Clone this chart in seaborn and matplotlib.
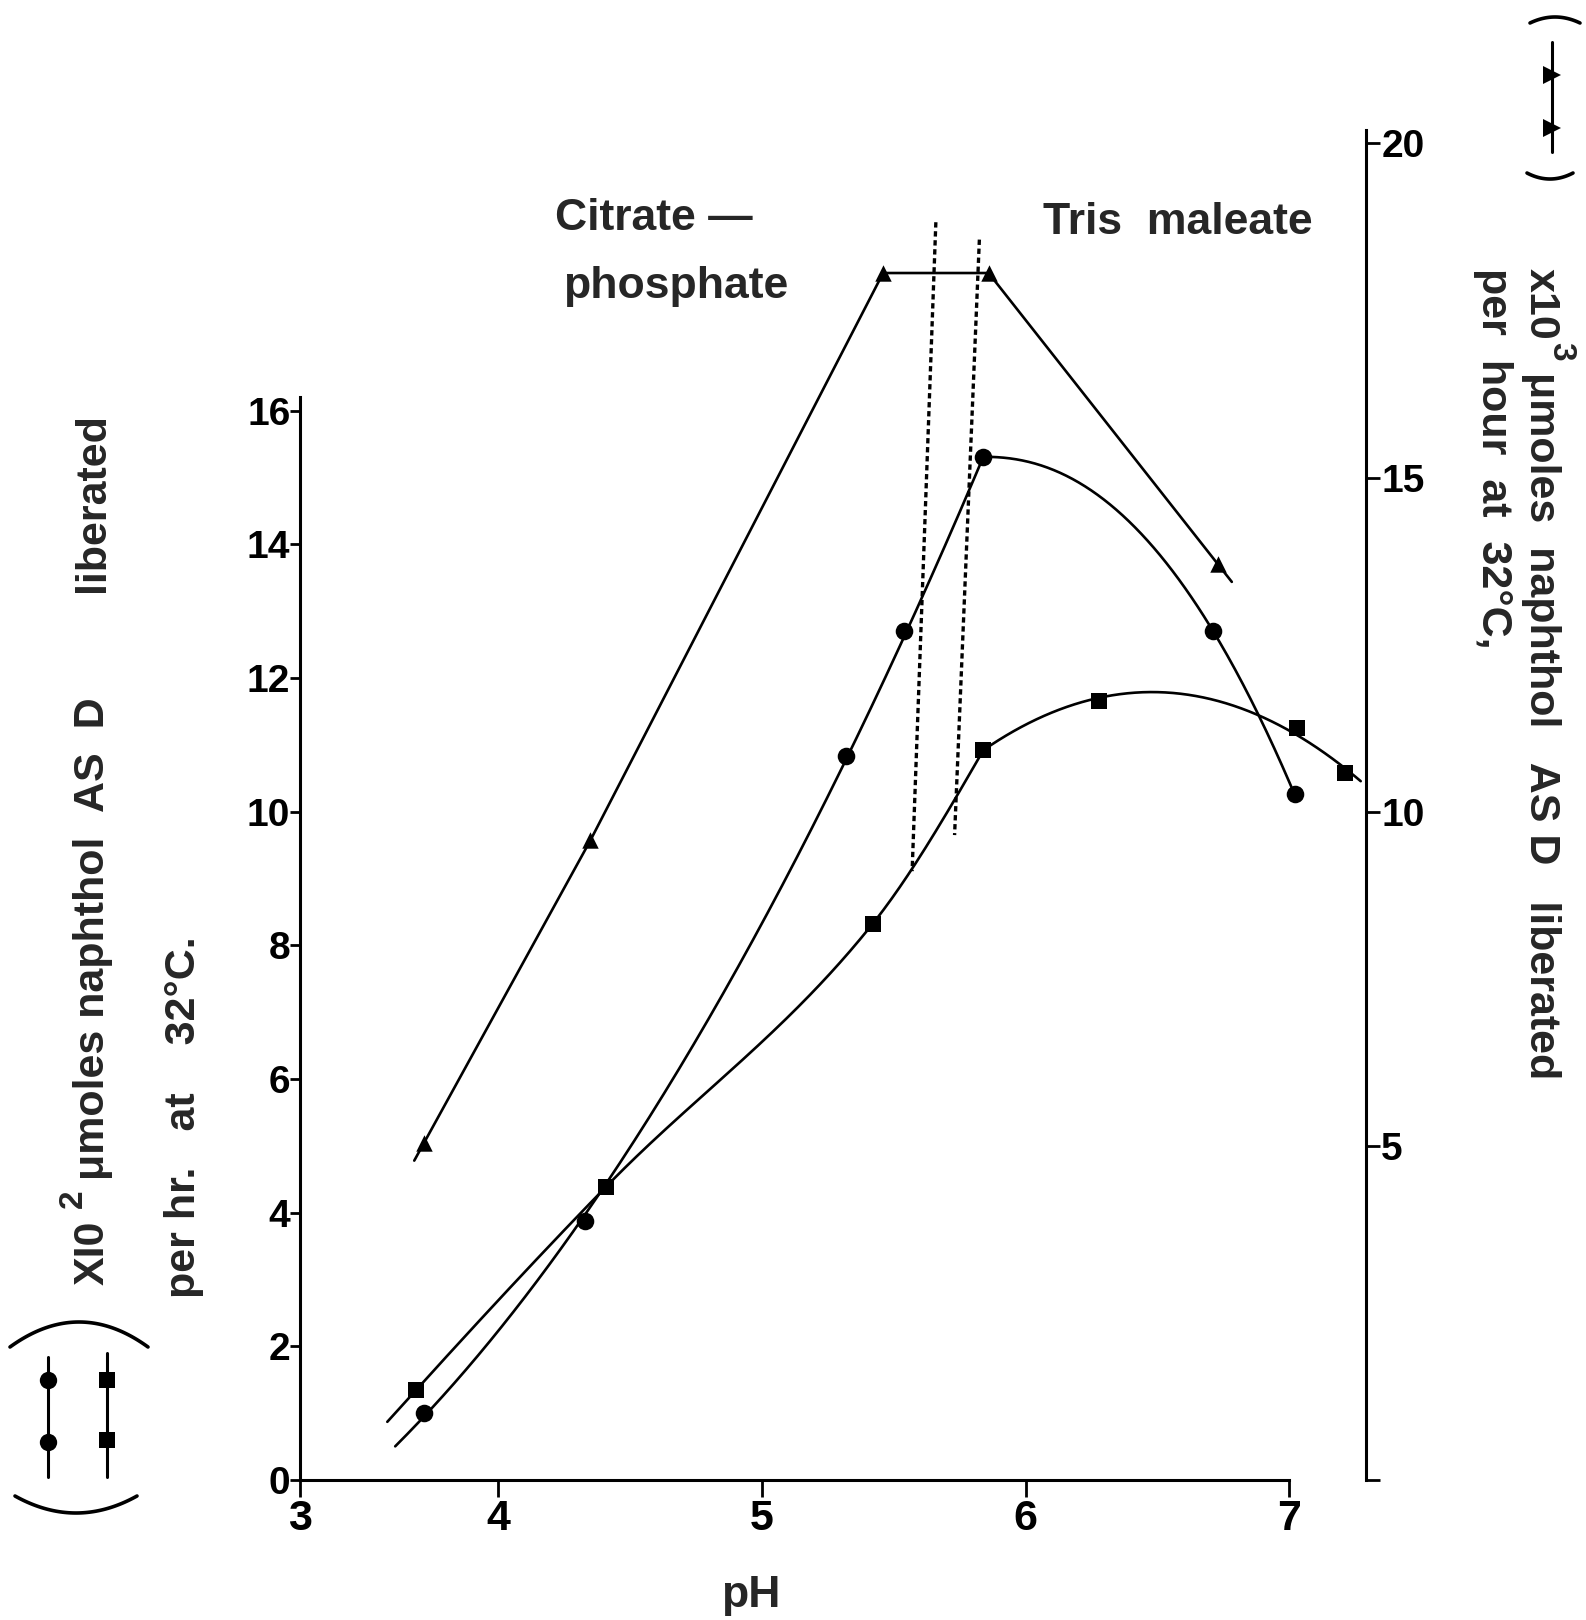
import numpy as np
import matplotlib
matplotlib.use("Agg")
import matplotlib.pyplot as plt
import seaborn as sns

# ---- measurements -------------------------------------------------------
# circles: x10^2 umoles naphthol AS D liberated per hr at 32 C (left axis)
ph_circle = [3.72, 4.33, 5.32, 5.54, 5.84, 6.71, 7.02]
act_circle = [1.00, 3.87, 10.84, 12.71, 15.31, 12.71, 10.26]

# squares: same units as circles (left axis)
ph_square = [3.69, 4.41, 5.42, 5.84, 6.28, 7.03, 7.21]
act_square = [1.35, 4.39, 8.32, 10.92, 11.65, 11.25, 10.58]

# triangles: x10^3 umoles per hour at 32 C (right axis)
ph_triangle = [3.72, 4.35, 5.46, 5.86, 6.73]
act_triangle = [5.05, 9.57, 18.06, 18.06, 13.70]

# limits of the citrate-phosphate / tris-maleate overlap (pH, value)
overlap_a_ph = [5.660, 5.570]
overlap_a_val = [18.82, 9.11]
overlap_b_ph = [5.825, 5.731]
overlap_b_val = [18.56, 9.65]

left_ticks = [0, 2, 4, 6, 8, 10, 12, 14, 16]
right_ticks = [0, 5, 10, 15, 20]
right_tick_labels = ["", "5", "10", "15", "20"]
x_ticks = [4, 5, 6, 7]
x_tick_labels = ["3", "4", "5", "6", "7"]

# ---- style --------------------------------------------------------------
sns.set_style("ticks")
plt.rcParams["font.family"] = ["Liberation Sans", "DejaVu Sans"]
plt.rcParams["font.weight"] = "bold"
INK = "black"
LW = 1.9

W, H = 1586, 1620
fig = plt.figure(figsize=(W / 100, H / 100), dpi=100)

X_MIN, X_MAX = 3.249, 7.291
Y_MAX = 20.2
ax = fig.add_axes([300 / W, 1 - 1480 / H, 1066 / W, 1350 / H])
ax.set_xlim(X_MIN, X_MAX)
ax.set_ylim(0, Y_MAX)
ax2 = ax.twinx()
ax2.set_ylim(0, Y_MAX)
for a in (ax, ax2):
    a.patch.set_alpha(0)


def poly_branch(x, y, deg, pin, lo, hi):
    """Polynomial trend through one branch, held at the shared peak point."""
    x = np.asarray(x, float)
    y = np.asarray(y, float)
    w = np.ones(len(x))
    w[pin] = 100.0
    coef = np.polyfit(x, y, deg, w=w)
    xs = np.linspace(lo, hi, 200)
    return xs, np.polyval(coef, xs)


def falling_branch(x, y, hi):
    """Decline from the peak (first point) as y0 - c * (x - x0) ** p."""
    x = np.asarray(x, float)
    y = np.asarray(y, float)
    p, logc = np.polyfit(np.log(x[1:] - x[0]), np.log(y[0] - y[1:]), 1)
    xs = np.linspace(x[0], hi, 200)
    return xs, y[0] - np.exp(logc) * (xs - x[0]) ** p


def pchip_branch(x, y, lo, hi):
    """Monotone piecewise-cubic curve through the points (Fritsch-Carlson),
    continued straight below the first point."""
    x = np.asarray(x, float)
    y = np.asarray(y, float)
    h = np.diff(x)
    d = np.diff(y) / h
    m = np.zeros_like(y)
    for i in range(1, len(x) - 1):
        if d[i - 1] * d[i] > 0:
            w1, w2 = 2 * h[i] + h[i - 1], h[i] + 2 * h[i - 1]
            m[i] = (w1 + w2) / (w1 / d[i - 1] + w2 / d[i])

    def end_slope(h0, h1, d0, d1):
        s = ((2 * h0 + h1) * d0 - h0 * d1) / (h0 + h1)
        if np.sign(s) != np.sign(d0):
            return 0.0
        if np.sign(d0) != np.sign(d1) and abs(s) > abs(3 * d0):
            return 3 * d0
        return s

    m[0] = end_slope(h[0], h[1], d[0], d[1])
    m[-1] = end_slope(h[-1], h[-2], d[-1], d[-2])
    xs = np.linspace(lo, hi, 300)
    xi = np.clip(xs, x[0], x[-1])
    idx = np.clip(np.searchsorted(x, xi) - 1, 0, len(x) - 2)
    t = (xi - x[idx]) / h[idx]
    ys = ((2 * t**3 - 3 * t**2 + 1) * y[idx]
          + (t**3 - 2 * t**2 + t) * h[idx] * m[idx]
          + (-2 * t**3 + 3 * t**2) * y[idx + 1]
          + (t**3 - t**2) * h[idx] * m[idx + 1])
    below = xs < x[0]
    ys[below] = y[0] + m[0] * (xs[below] - x[0])
    return xs, ys


LEAD = 0.11  # curves are drawn a little past the lowest-pH point
pc = int(np.argmax(act_circle))
ps = 3

curves = [
    poly_branch(ph_circle[:pc + 1], act_circle[:pc + 1], 2, -1,
                ph_circle[0] - LEAD, ph_circle[pc]),
    falling_branch(ph_circle[pc:], act_circle[pc:], ph_circle[-1]),
    pchip_branch(ph_square[:ps + 1], act_square[:ps + 1],
                 ph_square[0] - LEAD, ph_square[ps]),
    poly_branch(ph_square[ps:], act_square[ps:], 2, 0,
                ph_square[ps], X_MAX - 0.02),
]
for xs, ys in curves:
    sns.lineplot(x=xs, y=ys, ax=ax, color=INK, lw=LW, sort=False,
                 estimator=None, zorder=2)

# triangle series: straight segments, slightly overrunning both ends
tx = np.asarray(ph_triangle, float)
ty = np.asarray(act_triangle, float)
k = 0.06
tx_line = np.concatenate([[tx[0] - k * (tx[1] - tx[0])], tx,
                          [tx[-1] + k * (tx[-1] - tx[-2])]])
ty_line = np.concatenate([[ty[0] - k * (ty[1] - ty[0])], ty,
                          [ty[-1] + k * (ty[-1] - ty[-2])]])
sns.lineplot(x=tx_line, y=ty_line, ax=ax2, color=INK, lw=LW, sort=False,
             estimator=None, zorder=2)

sns.scatterplot(x=ph_circle, y=act_circle, ax=ax, marker="o", s=160,
                color=INK, edgecolor=INK, linewidth=0, zorder=3)
sns.scatterplot(x=ph_square, y=act_square, ax=ax, marker="s", s=130,
                color=INK, edgecolor=INK, linewidth=0, zorder=3)
sns.scatterplot(x=ph_triangle, y=act_triangle, ax=ax2, marker="^", s=140,
                color=INK, edgecolor=INK, linewidth=0, zorder=3)

for px, pv in ((overlap_a_ph, overlap_a_val), (overlap_b_ph, overlap_b_val)):
    ax.plot(px, pv, color=INK, lw=2.4, linestyle=(0, (1.6, 1.1)), zorder=2)

# ---- axes ---------------------------------------------------------------
ax.spines["top"].set_visible(False)
ax.spines["right"].set_visible(False)
ax.spines["left"].set_bounds(0, 16.2)
ax.spines["bottom"].set_bounds(X_MIN, 7.0)
for s in ("left", "bottom"):
    ax.spines[s].set_linewidth(2.2)
    ax.spines[s].set_color(INK)
for s in ("top", "left", "bottom"):
    ax2.spines[s].set_visible(False)
ax2.spines["right"].set_linewidth(2.2)
ax2.spines["right"].set_color(INK)

ax.set_yticks(left_ticks)
ax.set_yticklabels([str(t) for t in left_ticks])
ax.set_xticks([X_MIN] + x_ticks)
ax.set_xticklabels(x_tick_labels)
ax2.set_yticks(right_ticks)
ax2.set_yticklabels(right_tick_labels)

ax.tick_params(axis="y", direction="out", length=7, width=2, pad=0,
               labelsize=28, colors=INK)
ax.tick_params(axis="x", direction="out", length=12, width=2, pad=2,
               labelsize=31, colors=INK)
ax2.tick_params(axis="y", direction="out", length=10, width=2, pad=1,
                labelsize=28, colors=INK)
for lab in ax.get_xticklabels() + ax.get_yticklabels() + ax2.get_yticklabels():
    lab.set_fontweight("bold")
ax.set_xlabel("")
ax.set_ylabel("")
ax2.set_ylabel("")

# buffer names
ax.text(4.215, 18.71, "Citrate \u2014", fontsize=32, fontweight="bold",
        ha="left", va="baseline")
ax.text(4.247, 17.69, "phosphate", fontsize=32, fontweight="bold",
        ha="left", va="baseline")
ax.text(6.068, 18.65, "Tris  maleate", fontsize=32, fontweight="bold",
        ha="left", va="baseline")

# ---- page-level labels and key (pixel coordinates) ----------------------
ov = fig.add_axes([0, 0, 1, 1], zorder=-1)
ov.set_xlim(0, W)
ov.set_ylim(H, 0)
ov.axis("off")
ov.patch.set_alpha(0)

ov.text(751, 1607, "pH", fontsize=32, fontweight="bold", ha="center",
        va="baseline")

up = dict(rotation=90, rotation_mode="anchor", ha="left", va="baseline",
          fontweight="bold")
down = dict(rotation=-90, rotation_mode="anchor", ha="left", va="baseline",
            fontweight="bold")

# left axis title, read bottom-to-top
ov.text(104, 1285, "XI0", fontsize=31, **up)
ov.text(82, 1208, "2", fontsize=24, **up)
ov.text(104, 1180, "\u03bcmoles naphthol", fontsize=31, **up)
ov.text(104, 812, "AS  D", fontsize=31, **up)
ov.text(104, 592, "liberated", fontsize=31, **up)
ov.text(195, 1298, "per hr.   at    32\u00b0C.", fontsize=31, **up)

# right axis title, read top-to-bottom
ov.text(1530, 268, "x10", fontsize=31, **down)
ov.text(1552, 342, "3", fontsize=24, **down)
ov.text(1530, 372, "\u03bcmoles  naphthol   AS D   liberated", fontsize=31,
        **down)
ov.text(1482, 268, "per  hour  at  32\u00b0C,", fontsize=31, **down)


def bracket(x0, x1, y_end, y_mid):
    xs = np.linspace(x0, x1, 60)
    xc, half = (x0 + x1) / 2, (x1 - x0) / 2
    ys = y_mid + (y_end - y_mid) * ((xs - xc) / half) ** 2
    ov.plot(xs, ys, color=INK, lw=2.6, solid_capstyle="round")


def key_stroke(x, y0, y1, marks, marker, size):
    ov.plot([x, x], [y0, y1], color=INK, lw=2.2)
    ov.plot([x] * len(marks), marks, linestyle="none", marker=marker,
            markersize=size, color=INK, markeredgewidth=0)


# key for circles and squares (left)
bracket(10, 148, 1347, 1322)
bracket(15, 137, 1496, 1513)
key_stroke(48, 1357, 1477, [1380, 1442], "o", 12.5)
key_stroke(107, 1353, 1477, [1380, 1440], "s", 11)

# key for triangles (top right)
bracket(1530, 1580, 23, 17)
bracket(1527, 1573, 173, 179)
key_stroke(1552, 42, 152, [75, 128], ">", 12.5)

fig.savefig("out.png", dpi=100)
